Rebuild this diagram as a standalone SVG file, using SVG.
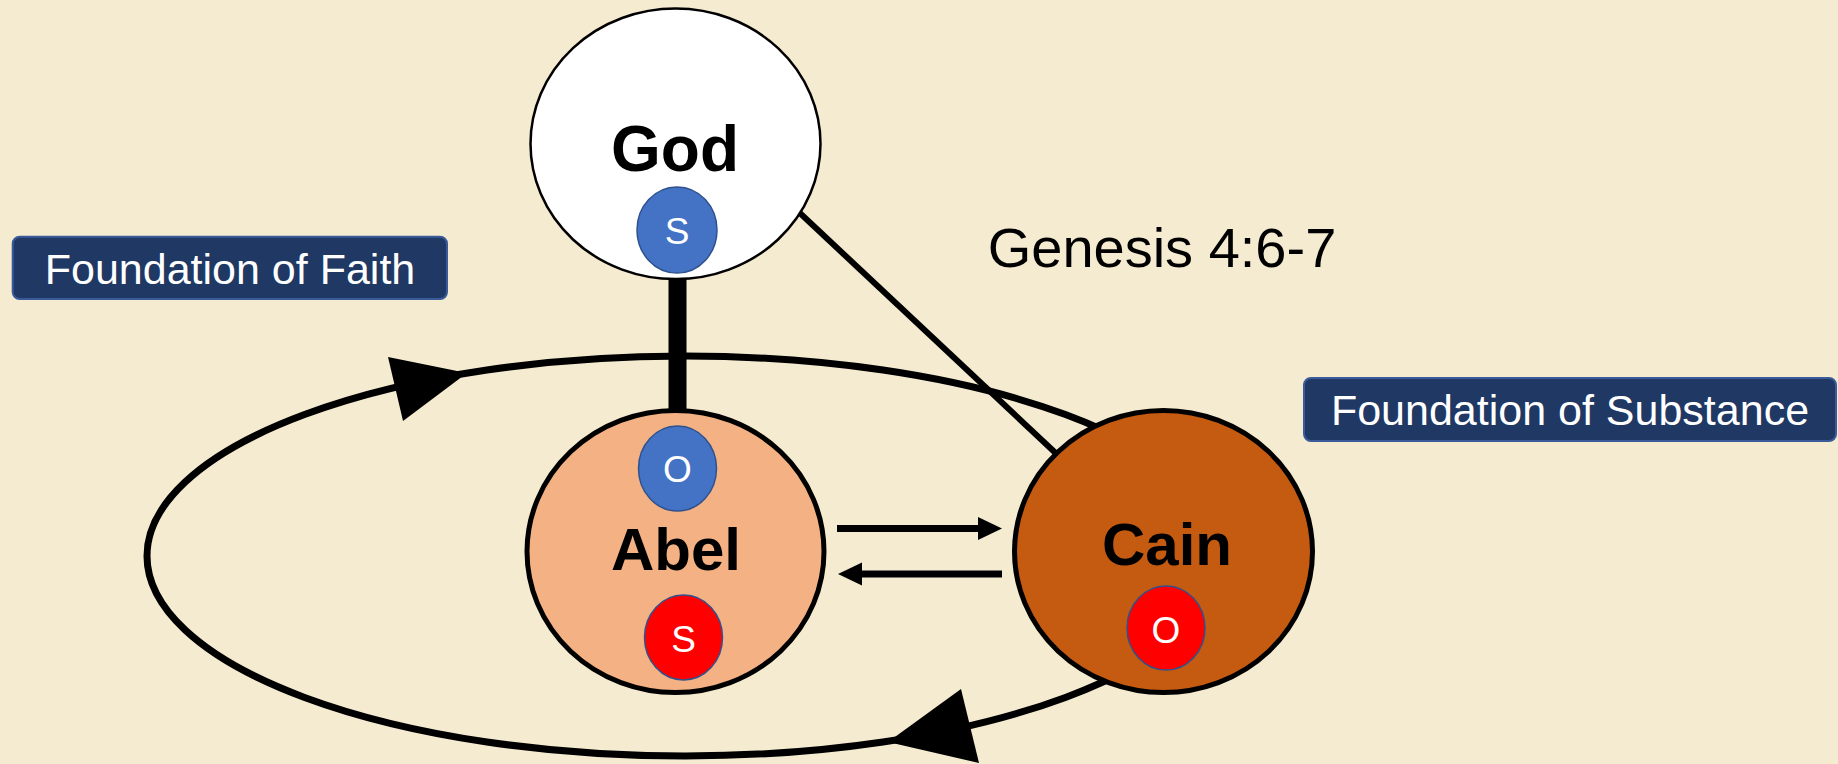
<svg xmlns="http://www.w3.org/2000/svg" width="1838" height="764" viewBox="0 0 1838 764">
  <defs>
    <style>
      .bg { fill: #F5EBD0; }
      .line { stroke: #000; fill: none; stroke-linecap: butt; }
      .head { fill: #000; stroke: none; }
      .node { stroke: #000; }
      .badge { stroke: #2F528F; stroke-width: 1.5; }
      .blue { fill: #4472C4; }
      .red { fill: #FF0000; }
      .name { font-family: "Liberation Sans", Arial, sans-serif; font-weight: bold; fill: #000; text-anchor: middle; }
      .letter { font-family: "Liberation Sans", Arial, sans-serif; font-size: 37px; fill: #fff; text-anchor: middle; }
      .tag rect { fill: #1F3864; stroke: #3A5A9A; stroke-width: 2; }
      .tag text { font-family: "Liberation Sans", Arial, sans-serif; font-size: 43px; fill: #fff; text-anchor: middle; }
      .note { font-family: "Liberation Sans", Arial, sans-serif; font-size: 56px; fill: #000; text-anchor: middle; }
    </style>
    <marker id="arrow" markerUnits="userSpaceOnUse" markerWidth="24" markerHeight="23" refX="0" refY="0" orient="auto" overflow="visible">
      <path d="M0,-11.5 L24,0 L0,11.5 Z" fill="#000"/>
    </marker>
  </defs>

  <rect class="bg" x="0" y="0" width="1838" height="764"/>

  <g id="connectors">
    <ellipse id="loop" class="line" cx="685" cy="556" rx="538" ry="200" stroke-width="7"/>
    <polygon class="head" points="388,357 403,421 467,373"/>
    <polygon class="head" points="961,689 979,763 888,742"/>
    <line id="god-abel" class="line" x1="677.5" y1="260" x2="677.5" y2="420" stroke-width="18"/>
    <line id="god-cain" class="line" x1="770" y1="185" x2="1062" y2="459" stroke-width="6"/>
    <path id="abel-cain" class="line" d="M837,528.5 L978,528.5" stroke-width="7" marker-end="url(#arrow)"/>
    <path id="cain-abel" class="line" d="M1002,574 L862,574" stroke-width="7" marker-end="url(#arrow)"/>
  </g>

  <g id="god">
    <ellipse class="node" cx="675.5" cy="143.8" rx="145" ry="135.3" fill="#FFFFFF" stroke-width="2.5"/>
    <text class="name" x="675" y="171" font-size="64">God</text>
    <ellipse class="badge blue" cx="677" cy="230" rx="40" ry="43"/>
    <text class="letter" x="677" y="243.5">S</text>
  </g>

  <g id="abel">
    <ellipse class="node" cx="675.5" cy="551.5" rx="148.5" ry="141" fill="#F4B183" stroke-width="5"/>
    <ellipse class="badge blue" cx="677.5" cy="468.5" rx="39" ry="42.5"/>
    <text class="letter" x="677.5" y="482">O</text>
    <text class="name" x="676" y="570" font-size="60">Abel</text>
    <ellipse class="badge red" cx="683.5" cy="637.5" rx="39" ry="42.5"/>
    <text class="letter" x="683.5" y="652">S</text>
  </g>

  <g id="cain">
    <ellipse class="node" cx="1163.5" cy="551.5" rx="149" ry="141" fill="#C55A11" stroke-width="5"/>
    <text class="name" x="1167" y="565" font-size="60">Cain</text>
    <ellipse class="badge red" cx="1166" cy="628" rx="39" ry="42"/>
    <text class="letter" x="1166" y="642.5">O</text>
  </g>

  <g id="foundation-faith" class="tag">
    <rect x="12.7" y="236.7" width="434.3" height="62.3" rx="7"/>
    <text x="230" y="284">Foundation of Faith</text>
  </g>

  <g id="foundation-substance" class="tag">
    <rect x="1304" y="378" width="532" height="63" rx="7"/>
    <text x="1570" y="425">Foundation of Substance</text>
  </g>

  <g id="genesis">
    <text class="note" x="1162" y="267">Genesis 4:6-7</text>
  </g>
</svg>
